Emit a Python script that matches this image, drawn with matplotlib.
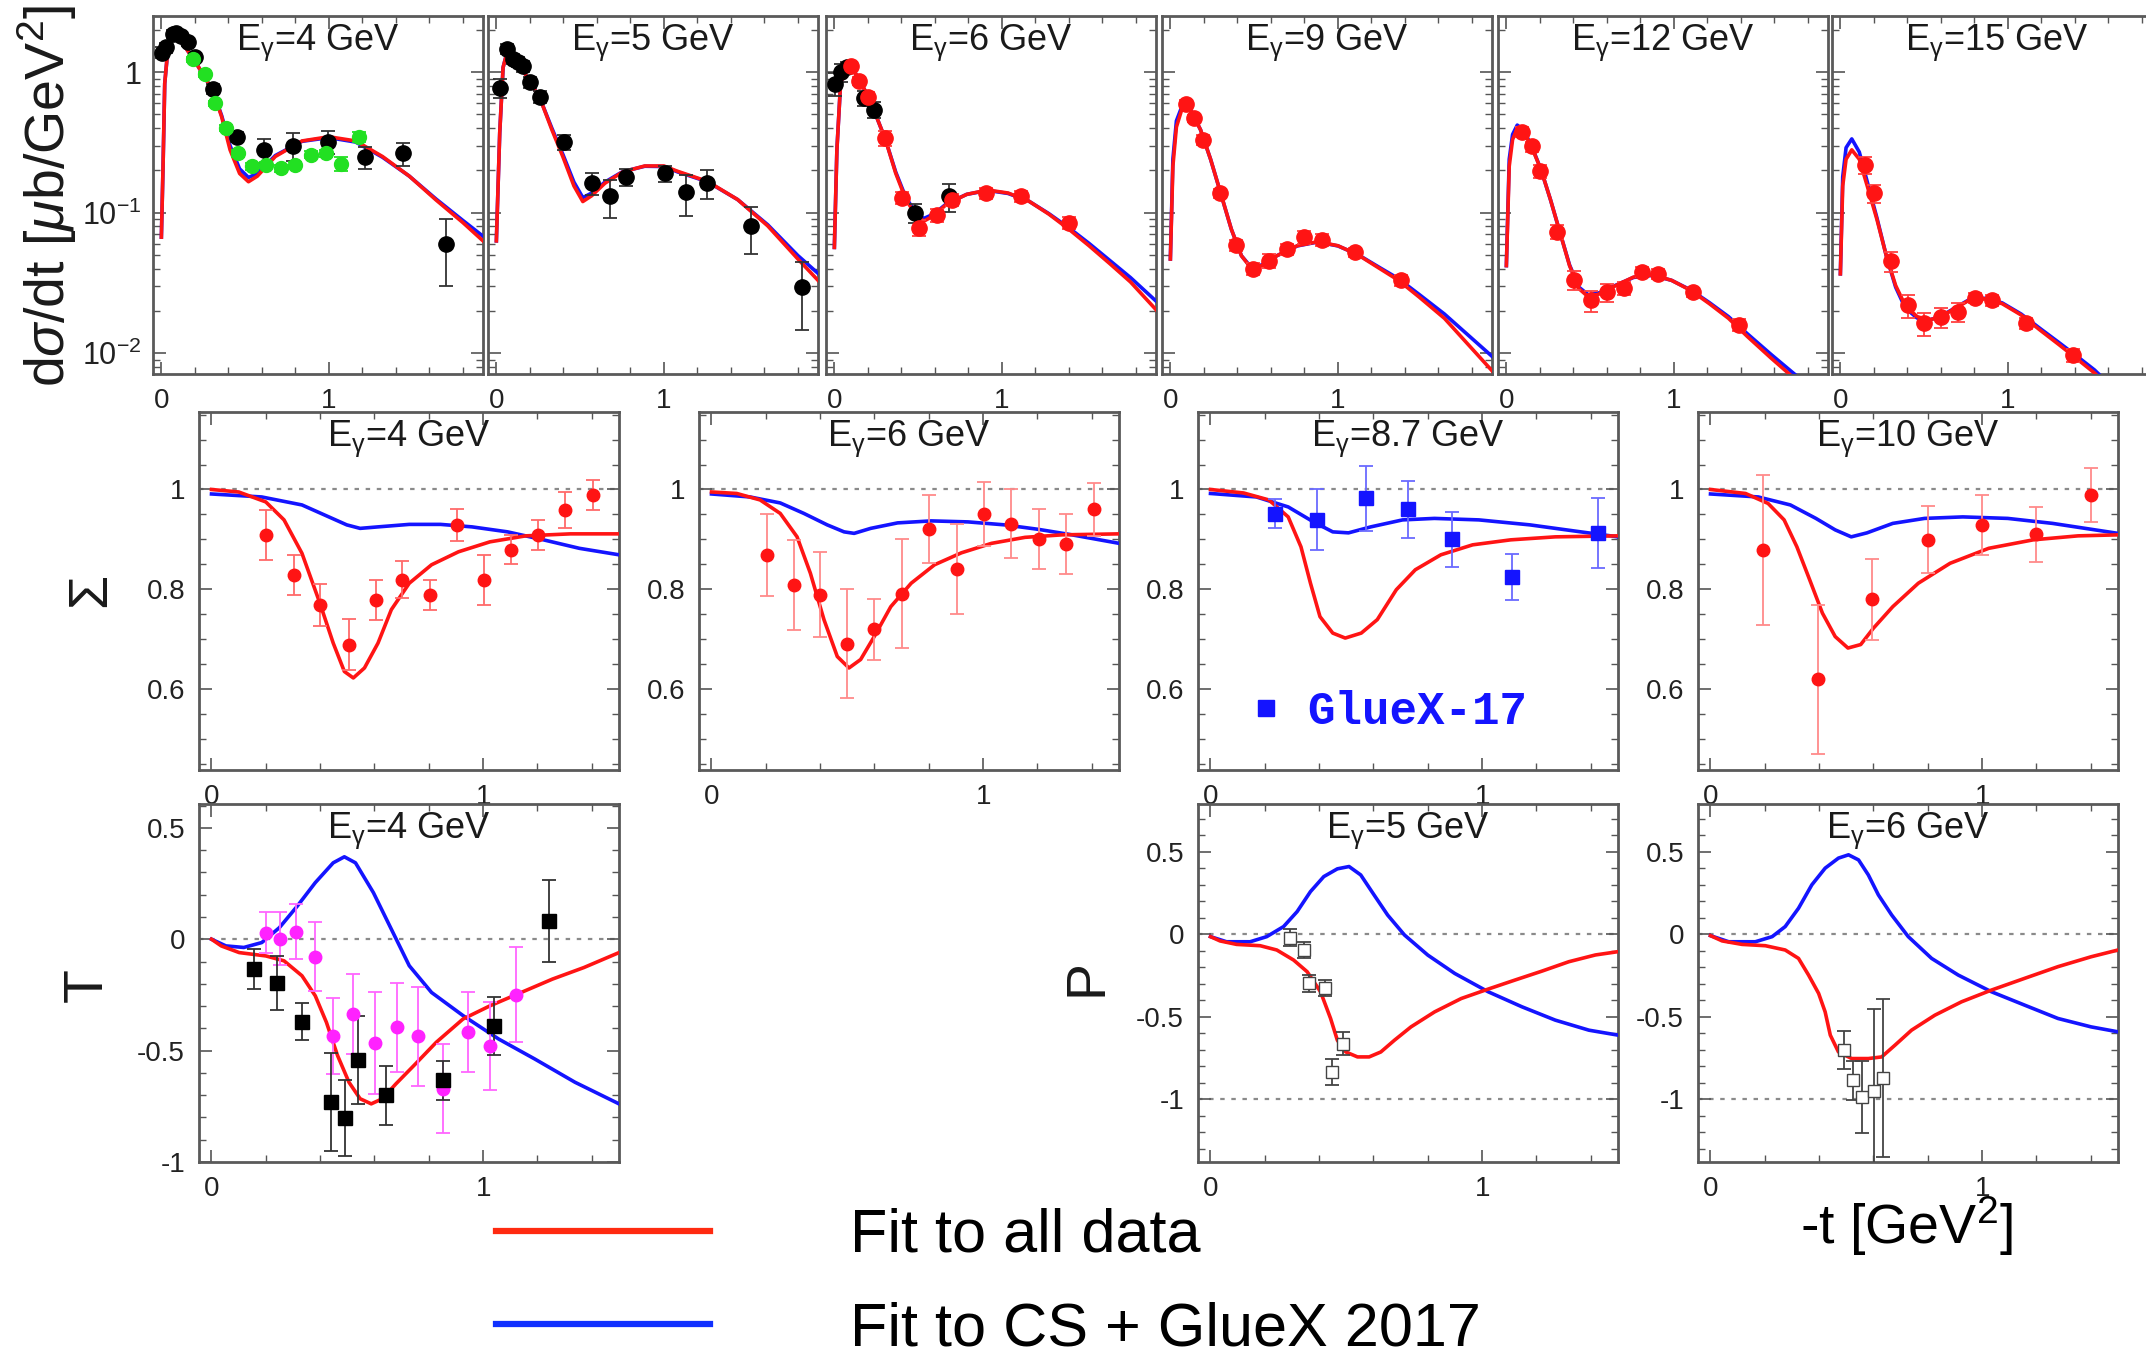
import numpy as np
import matplotlib
matplotlib.use("Agg")
import matplotlib.pyplot as plt
from matplotlib.lines import Line2D
from matplotlib.ticker import MultipleLocator, FixedLocator, LogLocator, NullFormatter

plt.rcParams['font.family'] = ['Liberation Sans', 'DejaVu Sans']
plt.rcParams['mathtext.fontset'] = 'custom'
plt.rcParams['mathtext.rm'] = 'Liberation Sans'
plt.rcParams['mathtext.it'] = 'Liberation Sans:italic'
plt.rcParams['mathtext.bf'] = 'Liberation Sans:bold'

RED = '#ff1414'
BLUE = '#1414ff'

# ---------------- dsigma/dt (top row) ----------------
cs4_t = [0.0, 0.01, 0.02, 0.04, 0.07, 0.09, 0.13, 0.2, 0.307, 0.36, 0.41, 0.467, 0.52, 0.573, 0.68, 0.84, 1.0, 1.16, 1.32, 1.48, 1.64, 1.8, 1.92]
cs4_red = [0.067, 0.214, 0.83, 1.51, 1.86, 1.86, 1.58, 1.20, 0.74, 0.48, 0.28, 0.19, 0.166, 0.182, 0.251, 0.324, 0.347, 0.324, 0.251, 0.182, 0.123, 0.085, 0.063]
cs4_blue = [0.067, 0.214, 0.83, 1.51, 1.86, 1.86, 1.58, 1.20, 0.74, 0.49, 0.30, 0.205, 0.178, 0.19, 0.255, 0.322, 0.342, 0.318, 0.248, 0.182, 0.125, 0.088, 0.068]
cs4_blk_t = [0.005, 0.03, 0.07, 0.09, 0.12, 0.16, 0.2, 0.31, 0.453, 0.613, 0.787, 0.995, 1.213, 1.445, 1.70]
cs4_blk = [1.38, 1.5, 1.86, 1.91, 1.81, 1.63, 1.28, 0.76, 0.348, 0.28, 0.30, 0.32, 0.25, 0.265, 0.060]
cs4_blk_err = [0.12, 0.12, 0.12, 0.12, 0.1, 0.1, 0.08, 0.06, 0.03, 0.053, 0.066, 0.06, 0.044, 0.05, 0.03]
cs4_grn_t = [0.187, 0.259, 0.32, 0.387, 0.459, 0.541, 0.627, 0.712, 0.8, 0.893, 0.98, 1.075, 1.18]
cs4_grn = [1.24, 0.97, 0.60, 0.40, 0.265, 0.214, 0.219, 0.208, 0.219, 0.258, 0.265, 0.223, 0.348]
cs4_grn_err = [0.05, 0.04, 0.025, 0.02, 0.015, 0.012, 0.012, 0.012, 0.012, 0.015, 0.015, 0.025, 0.03]

cs5_t = [0.0, 0.02, 0.04, 0.066, 0.119, 0.198, 0.265, 0.331, 0.397, 0.463, 0.516, 0.569, 0.648, 0.754, 0.886, 1.0, 1.082, 1.26, 1.44, 1.62, 1.80, 1.92]
cs5_red = [0.063, 0.37, 1.08, 1.42, 1.21, 0.87, 0.63, 0.39, 0.25, 0.155, 0.12, 0.132, 0.162, 0.195, 0.215, 0.215, 0.197, 0.167, 0.124, 0.0805, 0.0468, 0.033]
cs5_blue = [0.063, 0.37, 1.08, 1.42, 1.21, 0.87, 0.63, 0.40, 0.26, 0.165, 0.128, 0.138, 0.165, 0.196, 0.214, 0.213, 0.195, 0.166, 0.124, 0.082, 0.0495, 0.037]
cs5_blk_t = [0.02, 0.066, 0.098, 0.127, 0.159, 0.198, 0.259, 0.402, 0.569, 0.68, 0.772, 1.005, 1.13, 1.256, 1.52, 1.824]
cs5_blk = [0.77, 1.46, 1.24, 1.18, 1.11, 0.85, 0.67, 0.32, 0.163, 0.131, 0.18, 0.191, 0.14, 0.163, 0.0805, 0.0296]
cs5_blk_err = [0.12, 0.12, 0.1, 0.1, 0.1, 0.08, 0.07, 0.04, 0.03, 0.04, 0.025, 0.025, 0.045, 0.038, 0.03, 0.015]

cs6_t = [0.0, 0.015, 0.037, 0.076, 0.122, 0.183, 0.244, 0.305, 0.366, 0.427, 0.488, 0.534, 0.595, 0.67, 0.79, 0.915, 1.037, 1.16, 1.28, 1.40, 1.52, 1.646, 1.768, 1.92]
cs6_red = [0.0566, 0.28, 0.83, 1.11, 1.0, 0.74, 0.508, 0.331, 0.191, 0.124, 0.0955, 0.087, 0.0955, 0.115, 0.135, 0.145, 0.138, 0.121, 0.0977, 0.0762, 0.0582, 0.0432, 0.0321, 0.0204]
cs6_blue = [0.0566, 0.28, 0.83, 1.11, 1.0, 0.74, 0.508, 0.331, 0.195, 0.128, 0.099, 0.091, 0.098, 0.116, 0.135, 0.144, 0.137, 0.121, 0.0985, 0.078, 0.0605, 0.0455, 0.0345, 0.0235]
cs6_rpt_t = [0.10, 0.146, 0.198, 0.305, 0.402, 0.503, 0.61, 0.70, 0.905, 1.113, 1.402]
cs6_rpt = [1.11, 0.87, 0.67, 0.339, 0.128, 0.078, 0.096, 0.124, 0.138, 0.131, 0.085]
cs6_rpt_err = [0.08, 0.06, 0.05, 0.04, 0.012, 0.01, 0.01, 0.012, 0.012, 0.012, 0.008]
cs6_blk_t = [0.006, 0.037, 0.076, 0.177, 0.235, 0.479, 0.686]
cs6_blk = [0.83, 1.0, 1.08, 0.65, 0.54, 0.10, 0.131]
cs6_blk_err = [0.15, 0.15, 0.1, 0.08, 0.07, 0.015, 0.03]

cs9_t = [0.0, 0.015, 0.036, 0.076, 0.12, 0.18, 0.24, 0.30, 0.364, 0.424, 0.485, 0.545, 0.636, 0.758, 0.879, 1.0, 1.12, 1.24, 1.36, 1.485, 1.636, 1.92]
cs9_red = [0.0468, 0.214, 0.407, 0.582, 0.537, 0.389, 0.24, 0.138, 0.0762, 0.0494, 0.0398, 0.042, 0.0494, 0.0582, 0.0621, 0.0582, 0.0501, 0.0407, 0.0331, 0.0251, 0.0177, 0.0075]
cs9_blue = [0.0468, 0.24, 0.45, 0.60, 0.54, 0.389, 0.24, 0.138, 0.0762, 0.0494, 0.0405, 0.0425, 0.0494, 0.058, 0.0618, 0.058, 0.0503, 0.0413, 0.0340, 0.0262, 0.0190, 0.0095]
cs9_rpt_t = [0.091, 0.142, 0.197, 0.294, 0.394, 0.494, 0.591, 0.697, 0.797, 0.903, 1.1, 1.379]
cs9_rpt = [0.597, 0.469, 0.33, 0.138, 0.0588, 0.0398, 0.0456, 0.0551, 0.0667, 0.0642, 0.0522, 0.033]
cs9_rpt_err = [0.04, 0.03, 0.025, 0.01, 0.005, 0.004, 0.005, 0.005, 0.007, 0.006, 0.004, 0.003]

cs12_t = [0.0, 0.017, 0.037, 0.065, 0.10, 0.15, 0.207, 0.263, 0.32, 0.377, 0.433, 0.49, 0.56, 0.646, 0.759, 0.873, 0.986, 1.1, 1.212, 1.326, 1.44, 1.58, 1.72]
cs12_red = [0.042, 0.214, 0.331, 0.398, 0.38, 0.295, 0.202, 0.124, 0.0723, 0.042, 0.0288, 0.0251, 0.0265, 0.03, 0.0348, 0.0361, 0.033, 0.028, 0.0225, 0.0177, 0.0131, 0.00923, 0.0066]
cs12_blue = [0.042, 0.24, 0.36, 0.42, 0.39, 0.30, 0.202, 0.124, 0.0723, 0.0425, 0.0295, 0.026, 0.027, 0.0302, 0.0346, 0.0358, 0.0330, 0.0282, 0.0229, 0.0182, 0.0137, 0.0098, 0.0071]
cs12_rpt_t = [0.093, 0.15, 0.201, 0.3, 0.405, 0.504, 0.603, 0.703, 0.81, 0.906, 1.113, 1.388]
cs12_rpt = [0.377, 0.296, 0.197, 0.0734, 0.0333, 0.0238, 0.0272, 0.0291, 0.0381, 0.0365, 0.0272, 0.016]
cs12_rpt_err = [0.03, 0.025, 0.02, 0.008, 0.005, 0.004, 0.004, 0.003, 0.003, 0.003, 0.002, 0.0015]

cs15_t = [0.0, 0.014, 0.034, 0.068, 0.113, 0.161, 0.218, 0.274, 0.33, 0.387, 0.458, 0.528, 0.6, 0.684, 0.768, 0.867, 0.966, 1.079, 1.192, 1.305, 1.418, 1.517, 1.6]
cs15_red = [0.0367, 0.155, 0.24, 0.28, 0.24, 0.154, 0.0897, 0.0494, 0.0303, 0.0219, 0.0182, 0.0172, 0.0182, 0.0208, 0.0238, 0.0244, 0.0225, 0.0187, 0.0146, 0.0115, 0.009, 0.00723, 0.0058]
cs15_blue = [0.0367, 0.18, 0.29, 0.335, 0.27, 0.165, 0.092, 0.0494, 0.0295, 0.021, 0.0178, 0.0172, 0.0183, 0.021, 0.024, 0.0246, 0.0228, 0.019, 0.015, 0.0119, 0.0094, 0.0076, 0.0061]
cs15_rpt_t = [0.147, 0.198, 0.302, 0.401, 0.5, 0.599, 0.703, 0.802, 0.904, 1.107, 1.39]
cs15_rpt = [0.219, 0.137, 0.0451, 0.0219, 0.0163, 0.0181, 0.0197, 0.0248, 0.0238, 0.0163, 0.0097]
cs15_rpt_err = [0.03, 0.02, 0.007, 0.004, 0.003, 0.003, 0.003, 0.002, 0.002, 0.0015, 0.001]

# ---------------- beam asymmetry Sigma (middle row) ----------------
sig4_red_t = [0.0, 0.1, 0.2, 0.267, 0.333, 0.399, 0.448, 0.489, 0.522, 0.563, 0.613, 0.662, 0.728, 0.81, 0.909, 1.025, 1.157, 1.321, 1.5]
sig4_red = [1.0, 0.995, 0.975, 0.939, 0.872, 0.772, 0.692, 0.635, 0.622, 0.642, 0.692, 0.759, 0.812, 0.849, 0.875, 0.895, 0.907, 0.911, 0.911]
sig4_blue_t = [0.0, 0.185, 0.333, 0.432, 0.498, 0.547, 0.613, 0.728, 0.843, 0.959, 1.09, 1.222, 1.354, 1.5]
sig4_blue = [0.991, 0.985, 0.969, 0.945, 0.929, 0.922, 0.925, 0.93, 0.93, 0.925, 0.915, 0.899, 0.882, 0.869]
sig4_pt_t = [0.2, 0.303, 0.399, 0.507, 0.606, 0.703, 0.806, 0.903, 1.002, 1.104, 1.203, 1.301, 1.404]
sig4_pt = [0.909, 0.829, 0.769, 0.689, 0.779, 0.819, 0.789, 0.929, 0.819, 0.879, 0.909, 0.959, 0.989]
sig4_err = [0.05, 0.04, 0.042, 0.052, 0.04, 0.037, 0.03, 0.032, 0.05, 0.029, 0.03, 0.036, 0.031]

sig6_red_t = [0.0, 0.093, 0.179, 0.253, 0.315, 0.364, 0.414, 0.463, 0.506, 0.549, 0.599, 0.66, 0.735, 0.821, 0.92, 1.031, 1.154, 1.29, 1.5]
sig6_red = [0.995, 0.992, 0.979, 0.952, 0.905, 0.832, 0.739, 0.665, 0.642, 0.659, 0.705, 0.765, 0.812, 0.849, 0.873, 0.892, 0.904, 0.909, 0.911]
sig6_blue_t = [0.0, 0.142, 0.253, 0.34, 0.426, 0.488, 0.525, 0.586, 0.685, 0.809, 0.944, 1.08, 1.204, 1.327, 1.5]
sig6_blue = [0.991, 0.985, 0.973, 0.952, 0.929, 0.915, 0.912, 0.922, 0.933, 0.937, 0.935, 0.929, 0.92, 0.909, 0.892]
sig6_pt_t = [0.204, 0.302, 0.399, 0.5, 0.599, 0.70, 0.802, 0.904, 1.004, 1.102, 1.204, 1.305, 1.407]
sig6_pt = [0.869, 0.809, 0.789, 0.691, 0.72, 0.791, 0.92, 0.841, 0.951, 0.931, 0.90, 0.891, 0.96]
sig6_err = [0.082, 0.09, 0.085, 0.11, 0.061, 0.109, 0.068, 0.09, 0.064, 0.069, 0.06, 0.06, 0.053]

sig87_red_t = [0.0, 0.122, 0.215, 0.286, 0.333, 0.368, 0.403, 0.45, 0.496, 0.555, 0.614, 0.684, 0.754, 0.848, 0.965, 1.105, 1.269, 1.5]
sig87_red = [1.0, 0.993, 0.979, 0.945, 0.885, 0.812, 0.745, 0.712, 0.702, 0.712, 0.739, 0.799, 0.839, 0.869, 0.889, 0.899, 0.905, 0.907]
sig87_blue_t = [0.0, 0.169, 0.286, 0.379, 0.45, 0.508, 0.59, 0.707, 0.824, 0.988, 1.176, 1.363, 1.5]
sig87_blue = [0.992, 0.985, 0.965, 0.935, 0.915, 0.913, 0.925, 0.939, 0.942, 0.939, 0.929, 0.915, 0.905]
sig87_pt_t = [0.239, 0.391, 0.571, 0.726, 0.888, 1.11, 1.426]
sig87_pt = [0.951, 0.939, 0.982, 0.96, 0.90, 0.824, 0.912]
sig87_err = [0.029, 0.061, 0.065, 0.058, 0.055, 0.046, 0.07]

sig10_red_t = [0.0, 0.129, 0.212, 0.271, 0.318, 0.365, 0.412, 0.459, 0.506, 0.553, 0.6, 0.671, 0.765, 0.882, 1.024, 1.188, 1.353, 1.5]
sig10_red = [1.0, 0.992, 0.972, 0.939, 0.885, 0.819, 0.752, 0.705, 0.682, 0.689, 0.722, 0.765, 0.812, 0.852, 0.882, 0.899, 0.907, 0.909]
sig10_blue_t = [0.0, 0.176, 0.294, 0.388, 0.459, 0.518, 0.576, 0.671, 0.788, 0.929, 1.094, 1.259, 1.5]
sig10_blue = [0.991, 0.985, 0.969, 0.942, 0.919, 0.905, 0.913, 0.932, 0.942, 0.945, 0.942, 0.932, 0.912]
sig10_pt_t = [0.195, 0.395, 0.595, 0.8, 1.0, 1.2, 1.4]
sig10_pt = [0.879, 0.619, 0.78, 0.899, 0.929, 0.91, 0.989]
sig10_err = [0.15, 0.15, 0.081, 0.067, 0.06, 0.055, 0.055]

# ---------------- target asymmetry T ----------------
T_red_t = [0.0, 0.036, 0.102, 0.2, 0.267, 0.333, 0.382, 0.423, 0.464, 0.506, 0.547, 0.588, 0.629, 0.679, 0.745, 0.827, 0.926, 1.025, 1.14, 1.255, 1.371, 1.5]
T_red = [0.0, -0.03, -0.06, -0.075, -0.097, -0.164, -0.254, -0.373, -0.522, -0.642, -0.716, -0.739, -0.716, -0.649, -0.567, -0.463, -0.358, -0.299, -0.239, -0.179, -0.127, -0.06]
T_blue_t = [0.0, 0.053, 0.119, 0.185, 0.25, 0.316, 0.382, 0.448, 0.489, 0.53, 0.596, 0.662, 0.728, 0.81, 0.926, 1.057, 1.189, 1.338, 1.5]
T_blue = [0.0, -0.03, -0.037, -0.015, 0.052, 0.149, 0.254, 0.343, 0.37, 0.343, 0.209, 0.045, -0.119, -0.239, -0.343, -0.448, -0.537, -0.642, -0.739]
T_sq_t = [0.155, 0.242, 0.333, 0.44, 0.493, 0.539, 0.641, 0.852, 1.041, 1.244]
T_sq = [-0.134, -0.197, -0.37, -0.731, -0.803, -0.542, -0.701, -0.634, -0.388, 0.082]
T_sq_err = [0.09, 0.12, 0.082, 0.22, 0.17, 0.196, 0.134, 0.087, 0.13, 0.184]
T_mg_t = [0.2, 0.253, 0.31, 0.381, 0.447, 0.521, 0.603, 0.682, 0.761, 0.852, 0.943, 1.025, 1.121]
T_mg = [0.03, 0.003, 0.033, -0.078, -0.433, -0.336, -0.466, -0.396, -0.436, -0.672, -0.418, -0.478, -0.249]
T_mg_err = [0.093, 0.117, 0.124, 0.154, 0.17, 0.18, 0.228, 0.198, 0.222, 0.2, 0.179, 0.198, 0.213]

# ---------------- recoil polarization P ----------------
P5_red_t = [0.0, 0.035, 0.096, 0.183, 0.244, 0.306, 0.356, 0.405, 0.442, 0.467, 0.498, 0.541, 0.584, 0.627, 0.677, 0.738, 0.825, 0.923, 1.022, 1.121, 1.22, 1.319, 1.417, 1.5]
P5_red = [-0.014, -0.04, -0.061, -0.069, -0.095, -0.156, -0.227, -0.348, -0.51, -0.642, -0.713, -0.743, -0.743, -0.713, -0.642, -0.561, -0.47, -0.389, -0.332, -0.277, -0.223, -0.166, -0.125, -0.105]
P5_blue_t = [0.0, 0.059, 0.146, 0.207, 0.269, 0.319, 0.368, 0.417, 0.467, 0.51, 0.553, 0.602, 0.652, 0.714, 0.8, 0.899, 1.022, 1.146, 1.269, 1.393, 1.5]
P5_blue = [-0.014, -0.045, -0.045, -0.014, 0.047, 0.138, 0.259, 0.35, 0.397, 0.411, 0.36, 0.239, 0.117, -0.004, -0.126, -0.237, -0.348, -0.439, -0.52, -0.581, -0.611]
P5_pt_t = [0.291, 0.343, 0.362, 0.42, 0.486, 0.449]
P5_pt = [-0.02, -0.095, -0.298, -0.324, -0.662, -0.834]
P5_err = [0.05, 0.05, 0.05, 0.05, 0.07, 0.08]

P6_red_t = [0.0, 0.043, 0.116, 0.202, 0.275, 0.324, 0.361, 0.398, 0.422, 0.441, 0.471, 0.52, 0.581, 0.63, 0.679, 0.74, 0.826, 0.924, 1.034, 1.156, 1.279, 1.401, 1.5]
P6_red = [-0.008, -0.04, -0.061, -0.069, -0.095, -0.146, -0.247, -0.358, -0.47, -0.611, -0.713, -0.753, -0.753, -0.743, -0.672, -0.581, -0.49, -0.409, -0.338, -0.267, -0.196, -0.136, -0.095]
P6_blue_t = [0.0, 0.067, 0.165, 0.227, 0.275, 0.324, 0.373, 0.422, 0.471, 0.508, 0.545, 0.581, 0.618, 0.667, 0.728, 0.814, 0.912, 1.034, 1.156, 1.279, 1.401, 1.5]
P6_blue = [-0.008, -0.045, -0.045, -0.014, 0.047, 0.158, 0.3, 0.401, 0.462, 0.482, 0.451, 0.36, 0.239, 0.117, -0.014, -0.146, -0.247, -0.348, -0.429, -0.51, -0.561, -0.591]
P6_pt_t = [0.49, 0.526, 0.557, 0.603, 0.636]
P6_pt = [-0.702, -0.885, -0.986, -0.951, -0.87]
P6_err = [0.115, 0.12, 0.22, 0.5, 0.48]

W, H = 2146, 1359
fig = plt.figure(figsize=(W / 100, H / 100), dpi=100)


def add_panel(left, top, w, h):
    return fig.add_axes([left / W, 1 - (top + h) / H, w / W, h / H])


def style(ax):
    for s in ax.spines.values():
        s.set_color('#5a5a5a')
        s.set_linewidth(2)
    ax.tick_params(which='both', direction='in', top=True, right=True,
                   colors='#555555', labelcolor='#222222', labelsize=20, pad=10)
    ax.tick_params(which='major', length=9, width=1.2)
    ax.tick_params(which='minor', length=5, width=1.0)
    ax.xaxis.set_major_locator(FixedLocator([0, 1]))
    ax.xaxis.set_minor_locator(MultipleLocator(0.2))


def title(ax, s):
    ax.annotate(s, (0.5, 1), xycoords='axes fraction', xytext=(0, -5),
                textcoords='offset points', ha='center', va='top',
                fontsize=26, color='#1a1a1a')


def curves(ax, tb, yb, tr, yr):
    ax.plot(tb, yb, color=BLUE, lw=2.6, zorder=3)
    ax.plot(tr, yr, color=RED, lw=2.6, zorder=4)


def points(ax, t, y, e, color, ecolor, marker='o', ms=10, mfc=None, mec=None):
    ax.errorbar(t, y, yerr=e, fmt=marker, color=color, ms=ms,
                mfc=mfc if mfc else color, mec=mec if mec else color,
                ecolor=ecolor, elinewidth=1.3, capsize=5, capthick=1.3, zorder=5)


def etitle(e):
    return r'E$_\mathrm{γ}$=' + e + ' GeV'


# ---------------- top row ----------------
top_lefts = [153, 488, 826, 1162, 1498, 1832]
top_titles = ['4', '5', '6', '9', '12', '15']
top_curves = [(cs4_t, cs4_red, cs4_blue), (cs5_t, cs5_red, cs5_blue), (cs6_t, cs6_red, cs6_blue),
              (cs9_t, cs9_red, cs9_blue), (cs12_t, cs12_red, cs12_blue), (cs15_t, cs15_red, cs15_blue)]
top_axes = []
for i, left in enumerate(top_lefts):
    ax = add_panel(left, 16, 330, 358)
    style(ax)
    ax.set_yscale('log')
    ax.set_xlim(-0.05, 1.92)
    ax.set_ylim(0.00711, 2.51)
    ax.yaxis.set_major_locator(FixedLocator([0.01, 0.1, 1]))
    ax.yaxis.set_minor_locator(LogLocator(subs=np.arange(2, 10)))
    ax.yaxis.set_minor_formatter(NullFormatter())
    if i == 0:
        ax.set_yticklabels([r'$10^{-2}$', r'$10^{-1}$', '1'])
        ax.tick_params(axis='y', labelsize=22, pad=8)
    else:
        ax.tick_params(labelleft=False)
    t, r, b = top_curves[i]
    curves(ax, t, b, t, r)
    title(ax, etitle(top_titles[i]))
    top_axes.append(ax)

points(top_axes[0], cs4_blk_t, cs4_blk, cs4_blk_err, 'black', '#333333', ms=11)
points(top_axes[0], cs4_grn_t, cs4_grn, cs4_grn_err, '#22e022', '#22e022', ms=10)
points(top_axes[1], cs5_blk_t, cs5_blk, cs5_blk_err, 'black', '#333333', ms=11)
points(top_axes[2], cs6_blk_t, cs6_blk, cs6_blk_err, 'black', '#333333', ms=11)
points(top_axes[2], cs6_rpt_t, cs6_rpt, cs6_rpt_err, RED, '#ff4040', ms=11)
points(top_axes[3], cs9_rpt_t, cs9_rpt, cs9_rpt_err, RED, '#ff4040', ms=11)
points(top_axes[4], cs12_rpt_t, cs12_rpt, cs12_rpt_err, RED, '#ff4040', ms=11)
points(top_axes[5], cs15_rpt_t, cs15_rpt, cs15_rpt_err, RED, '#ff4040', ms=11)

# ---------------- middle and bottom rows ----------------
col_lefts = [199, 699, 1198, 1698]


def lower_panel(left, top, ylim, major, minor, refs):
    ax = add_panel(left, top, 420, 358)
    style(ax)
    ax.set_xlim(-0.046, 1.5)
    ax.set_ylim(*ylim)
    ax.yaxis.set_major_locator(MultipleLocator(major))
    ax.yaxis.set_minor_locator(MultipleLocator(minor))
    for r in refs:
        ax.axhline(r, color='#8a8a8a', lw=1.6, ls=(0, (2, 3)), zorder=1)
    return ax


sig_sets = [('4', sig4_blue_t, sig4_blue, sig4_red_t, sig4_red),
            ('6', sig6_blue_t, sig6_blue, sig6_red_t, sig6_red),
            ('8.7', sig87_blue_t, sig87_blue, sig87_red_t, sig87_red),
            ('10', sig10_blue_t, sig10_blue, sig10_red_t, sig10_red)]
sig_axes = []
for left, (e, tb, yb, tr, yr) in zip(col_lefts, sig_sets):
    ax = lower_panel(left, 411.7, (0.438, 1.156), 0.2, 0.05, [1.0])
    ax.yaxis.set_major_locator(FixedLocator([0.6, 0.8, 1.0]))
    ax.set_yticklabels(['0.6', '0.8', '1'])
    curves(ax, tb, yb, tr, yr)
    title(ax, etitle(e))
    sig_axes.append(ax)

points(sig_axes[0], sig4_pt_t, sig4_pt, sig4_err, RED, '#ff6a6a', ms=9)
points(sig_axes[1], sig6_pt_t, sig6_pt, sig6_err, RED, '#ff8a8a', ms=9)
points(sig_axes[2], sig87_pt_t, sig87_pt, sig87_err, BLUE, '#6a6aff', marker='s', ms=10)
points(sig_axes[3], sig10_pt_t, sig10_pt, sig10_err, RED, '#ff8a8a', ms=9)

gx = Line2D([], [], color=BLUE, marker='s', ms=12, ls='none')
sig_axes[2].legend([gx], ['GlueX-17'], loc='center left', bbox_to_anchor=(0.13, 0.161),
                   frameon=False, borderpad=0, borderaxespad=0, handlelength=0.6,
                   handletextpad=0.6, labelcolor=BLUE,
                   prop={'family': 'Liberation Mono', 'weight': 'bold', 'size': 33})

axT = lower_panel(col_lefts[0], 804, (-1.0, 0.607), 0.5, 0.1, [0.0])
axT.yaxis.set_major_locator(FixedLocator([-1, -0.5, 0, 0.5]))
axT.set_yticklabels(['-1', '-0.5', '0', '0.5'])
curves(axT, T_blue_t, T_blue, T_red_t, T_red)
points(axT, T_mg_t, T_mg, T_mg_err, '#ff22ff', '#ff66ff', ms=9)
points(axT, T_sq_t, T_sq, T_sq_err, 'black', '#333333', marker='s', ms=10)
title(axT, etitle('4'))

p_sets = [(col_lefts[2], '5', P5_blue_t, P5_blue, P5_red_t, P5_red, P5_pt_t, P5_pt, P5_err),
          (col_lefts[3], '6', P6_blue_t, P6_blue, P6_red_t, P6_red, P6_pt_t, P6_pt, P6_err)]
for left, e, tb, yb, tr, yr, pt, py, pe in p_sets:
    ax = lower_panel(left, 804, (-1.38, 0.79), 0.5, 0.1, [0.0, -1.0])
    ax.yaxis.set_major_locator(FixedLocator([-1, -0.5, 0, 0.5]))
    ax.set_yticklabels(['-1', '-0.5', '0', '0.5'])
    curves(ax, tb, yb, tr, yr)
    points(ax, pt, py, pe, '#555555', '#444444', marker='s', ms=9, mfc='white', mec='#444444')
    title(ax, etitle(e))

# ---------------- axis titles ----------------
fig.text(47 / W, 1 - 196 / H, r'd$\sigma$/dt [$\mu$b/GeV$^2$]', rotation=90,
         ha='center', va='center', fontsize=40, color='#1a1a1a')
fig.text(91 / W, 1 - 590 / H, 'Σ', rotation=90, ha='center', va='center', fontsize=40, color='#1a1a1a')
fig.text(88 / W, 1 - 985 / H, 'T', rotation=90, ha='center', va='center', fontsize=40, color='#1a1a1a')
fig.text(1088 / W, 1 - 978 / H, 'P', rotation=90, ha='center', va='center', fontsize=40, color='#1a1a1a')
fig.text(1906 / W, 1 - 1226 / H, r'-t [GeV$^2$]', ha='center', va='center', fontsize=40, color='black')

leg_handles = [Line2D([], [], color='#ff2a10', lw=4.5), Line2D([], [], color='#1030ff', lw=4.5)]
fig.legend(leg_handles, ['Fit to all data', 'Fit to CS + GlueX 2017'], loc='upper left',
           bbox_to_anchor=(496 / W, 1 - 1208 / H), frameon=False, fontsize=44,
           handlelength=3.5, handletextpad=2.3, labelspacing=0.6, borderpad=0, borderaxespad=0)

fig.savefig('out.png', dpi=100)
